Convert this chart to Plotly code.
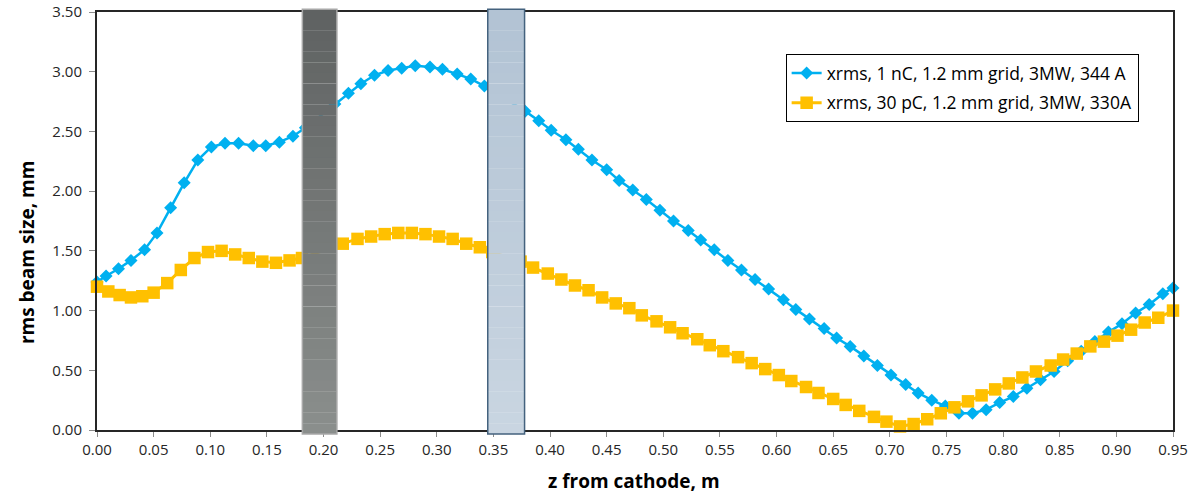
import plotly.graph_objects as go

# ---- data -------------------------------------------------------------
# rms horizontal beam size along z (m) from the cathode
z_1nc = [0.000, 0.008, 0.019, 0.030, 0.042, 0.053, 0.065, 0.077, 0.089, 0.101,
         0.113, 0.125, 0.138, 0.149, 0.161, 0.173, 0.184, 0.210, 0.222, 0.233,
         0.245, 0.257, 0.269, 0.281, 0.294, 0.305, 0.318, 0.330, 0.342, 0.378,
         0.390, 0.401, 0.414, 0.425, 0.437, 0.450, 0.461, 0.473, 0.485, 0.497,
         0.509, 0.522, 0.533, 0.545, 0.557, 0.569, 0.581, 0.593, 0.606, 0.617,
         0.629, 0.642, 0.653, 0.665, 0.677, 0.689, 0.701, 0.714, 0.725, 0.737,
         0.749, 0.761, 0.773, 0.785, 0.797, 0.809, 0.821, 0.833, 0.845, 0.857,
         0.869, 0.881, 0.893, 0.905, 0.917, 0.929, 0.941, 0.950]
xrms_1nc = [1.24, 1.29, 1.35, 1.42, 1.51, 1.65, 1.86, 2.07, 2.26, 2.37,
            2.40, 2.40, 2.38, 2.38, 2.41, 2.46, 2.53, 2.73, 2.82, 2.90,
            2.97, 3.01, 3.03, 3.05, 3.04, 3.02, 2.98, 2.94, 2.88, 2.67,
            2.59, 2.51, 2.43, 2.35, 2.26, 2.18, 2.09, 2.01, 1.93, 1.84,
            1.75, 1.67, 1.59, 1.51, 1.42, 1.34, 1.26, 1.18, 1.09, 1.01,
            0.93, 0.85, 0.77, 0.70, 0.62, 0.54, 0.46, 0.38, 0.31, 0.25,
            0.20, 0.14, 0.14, 0.17, 0.23, 0.28, 0.35, 0.42, 0.49, 0.58,
            0.66, 0.74, 0.82, 0.89, 0.98, 1.05, 1.14, 1.19]

z_30pc = [0.000, 0.010, 0.020, 0.030, 0.040, 0.050, 0.062, 0.074, 0.086, 0.098,
          0.110, 0.122, 0.134, 0.146, 0.158, 0.170, 0.181, 0.217, 0.230, 0.242,
          0.254, 0.266, 0.278, 0.290, 0.302, 0.314, 0.326, 0.338, 0.349, 0.374,
          0.385, 0.398, 0.410, 0.422, 0.434, 0.446, 0.458, 0.470, 0.481, 0.494,
          0.506, 0.517, 0.530, 0.541, 0.553, 0.566, 0.578, 0.590, 0.602, 0.613,
          0.626, 0.637, 0.650, 0.661, 0.673, 0.686, 0.697, 0.709, 0.721, 0.733,
          0.745, 0.757, 0.769, 0.781, 0.793, 0.805, 0.817, 0.829, 0.842, 0.853,
          0.865, 0.877, 0.889, 0.901, 0.913, 0.925, 0.937, 0.950]
xrms_30pc = [1.20, 1.16, 1.13, 1.11, 1.12, 1.15, 1.23, 1.34, 1.44, 1.49,
             1.50, 1.47, 1.44, 1.41, 1.40, 1.42, 1.44, 1.56, 1.60, 1.62,
             1.64, 1.65, 1.65, 1.64, 1.62, 1.60, 1.56, 1.53, 1.49, 1.41,
             1.36, 1.31, 1.26, 1.21, 1.17, 1.11, 1.06, 1.02, 0.96, 0.91,
             0.86, 0.81, 0.76, 0.71, 0.66, 0.61, 0.56, 0.51, 0.46, 0.41,
             0.36, 0.31, 0.26, 0.21, 0.16, 0.11, 0.07, 0.03, 0.05, 0.09,
             0.14, 0.19, 0.24, 0.29, 0.34, 0.39, 0.44, 0.49, 0.54, 0.59,
             0.64, 0.70, 0.74, 0.79, 0.84, 0.90, 0.94, 1.00]

series_names = ["xrms, 1 nC, 1.2 mm grid, 3MW, 344 A",
                "xrms, 30 pC, 1.2 mm grid, 3MW, 330A"]

# beamline elements drawn as vertical bands (z start, z end)
element_z = [(0.1813, 0.2118), (0.345, 0.3775)]

x_ticks = [round(0.05 * i, 2) for i in range(20)]
y_ticks = [0.5 * i for i in range(8)]

x_title = "z from cathode, m"
y_title = "rms beam size, mm"

# ---- figure -----------------------------------------------------------
FONT = "Open Sans"
fig = go.Figure()

fig.add_trace(go.Scatter(
    x=z_1nc, y=xrms_1nc, mode="lines+markers", name=series_names[0],
    legendgroup="a", cliponaxis=False,
    line=dict(color="#00B0F0", width=2.5),
    marker=dict(symbol="diamond", size=10, color="#00B0F0"),
))
fig.add_trace(go.Scatter(
    x=z_30pc, y=xrms_30pc, mode="lines+markers", name=series_names[1],
    legendgroup="b", cliponaxis=False,
    line=dict(color="#FFC000", width=3),
    marker=dict(symbol="square", size=12.5, color="#FFC000"),
))


def hex_mix(c0, c1, t):
    a = [int(c0[i:i + 2], 16) for i in (1, 3, 5)]
    b = [int(c1[i:i + 2], 16) for i in (1, 3, 5)]
    return "#" + "".join(f"{round(a[k] + (b[k] - a[k]) * t):02x}" for k in range(3))


band_styles = [
    dict(top="#5f6262", bottom="#8a8e8c", edge="#a8a8a8"),
    dict(top="#b2c3d4", bottom="#c9d5e1", edge="#44627e"),
]
y_top, y_bot = 1.0065, -0.0096
n_strips = 40
shapes = []
for (za, zb), st in zip(element_z, band_styles):
    h = (y_top - y_bot) / n_strips
    for k in range(n_strips):
        shapes.append(dict(
            type="rect", xref="x", yref="paper", layer="above",
            x0=za, x1=zb, y0=y_top - (k + 1) * h, y1=y_top - k * h + 0.0005,
            fillcolor=hex_mix(st["top"], st["bottom"], k / (n_strips - 1)),
            line=dict(width=0),
        ))
    shapes.append(dict(
        type="rect", xref="x", yref="paper", layer="above",
        x0=za, x1=zb, y0=y_bot, y1=y_top,
        line=dict(color=st["edge"], width=1.5), fillcolor="rgba(0,0,0,0)",
    ))

fig.update_layout(
    width=1191, height=496,
    margin=dict(l=97, r=18, t=12, b=66, autoexpand=False),
    paper_bgcolor="white", plot_bgcolor="white",
    font=dict(family=FONT, color="#262626", size=15),
    shapes=shapes,
    showlegend=True,
    legend=dict(
        x=0.640, y=0.8995, xanchor="left", yanchor="top",
        bordercolor="black", borderwidth=1, bgcolor="white",
        font=dict(family=FONT, size=17.5, color="black"),
        tracegroupgap=4,
    ),
    xaxis=dict(
        range=[0, 0.95], tickvals=x_ticks,
        ticktext=[f"{v:.2f}" for v in x_ticks],
        showgrid=False, zeroline=False, automargin=False,
        showline=True, linecolor="#262626", linewidth=2, mirror=True,
        ticks="outside", ticklen=5, tickcolor="#8c8c8c", tickwidth=1,
        tickfont=dict(size=15, color="#262626"),
    ),
    yaxis=dict(
        range=[0, 3.5], tickvals=y_ticks,
        ticktext=[f"{v:.2f}" for v in y_ticks],
        showgrid=False, zeroline=False, automargin=False,
        showline=True, linecolor="#262626", linewidth=2, mirror=True,
        ticks="outside", ticklen=6, tickcolor="#8c8c8c", tickwidth=1,
        ticklabelstandoff=4,
        tickfont=dict(size=15, color="#262626"),
    ),
    annotations=[
        dict(text=f"<b>{x_title}</b>", xref="paper", yref="paper",
             x=0.4994, y=-0.122, xanchor="center", yanchor="middle",
             showarrow=False, font=dict(family=FONT, size=19, color="black")),
        dict(text=f"<b>{y_title}</b>", xref="paper", yref="paper",
             x=-0.065, y=0.4234, xanchor="center", yanchor="middle",
             textangle=-90, showarrow=False,
             font=dict(family=FONT, size=19, color="black")),
    ],
)

fig.write_html("out.html")
